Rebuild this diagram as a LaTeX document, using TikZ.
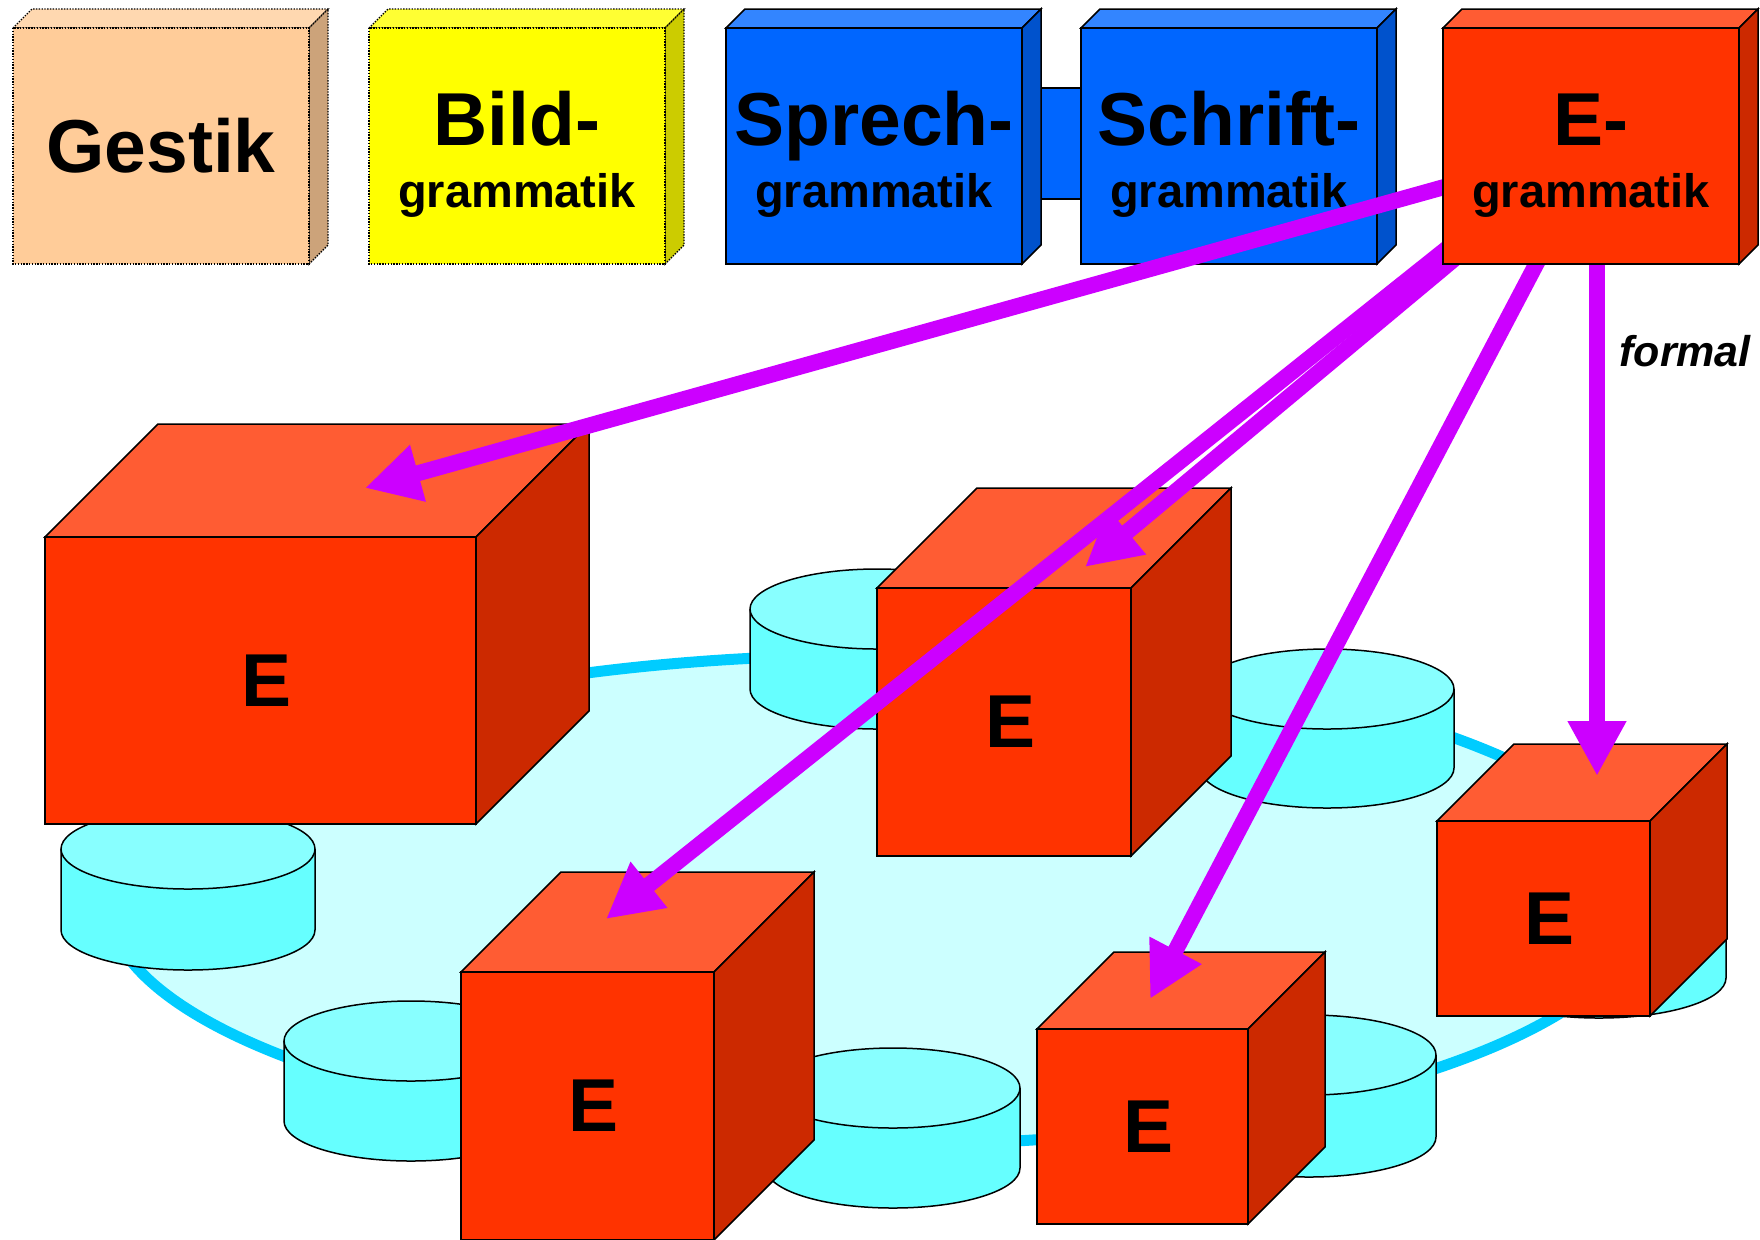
\documentclass[tikz,border=0pt]{standalone}
\usepackage{fontspec}
\setmainfont{Liberation Sans}
\usepackage{tikz}
\usetikzlibrary{arrows.meta}

\definecolor{gestikfront}{HTML}{FFCC99}
\definecolor{gestiktop}{HTML}{FFD8B0}
\definecolor{gestikside}{HTML}{CCA37A}
\definecolor{bildfront}{HTML}{FFFF00}
\definecolor{bildtop}{HTML}{FFFF33}
\definecolor{bildside}{HTML}{CCCC00}
\definecolor{bluefront}{HTML}{0066FF}
\definecolor{bluetop}{HTML}{3385FF}
\definecolor{blueside}{HTML}{0052CC}
\definecolor{redfront}{HTML}{FF3300}
\definecolor{redtop}{HTML}{FF5C33}
\definecolor{redside}{HTML}{CC2900}
\definecolor{cylside}{HTML}{66FFFF}
\definecolor{cyltop}{HTML}{88FFFF}
\definecolor{ringfill}{HTML}{CCFFFF}
\definecolor{ringblue}{HTML}{00CCFF}
\definecolor{arrowmag}{HTML}{CC00FF}

% box with top and side face: name, x, y, width, height, depth, colour, style
\newcommand{\drawcube}[8]{%
  \filldraw[#8, fill=#7top] (#2,#3) -- ++(#6,-#6) -- ++(#4,0) -- ++(-#6,#6) -- cycle;
  \filldraw[#8, fill=#7side] (#2+#4,#3) -- ++(#6,-#6) -- ++(0,#5) -- ++(-#6,#6) -- cycle;
  \filldraw[#8, fill=#7front] (#2,#3) rectangle ++(#4,#5);
  \coordinate (#1) at (#2+#4/2,#3+#5/2);
}
% disc: centre x, top y, bottom y
\newcommand{\drawdisc}[3]{%
  \filldraw[edge, fill=cylside] (#1-127,#2) -- (#1-127,#3) arc[start angle=180, end angle=0, x radius=127, y radius=40] -- (#1+127,#2);
  \filldraw[edge, fill=cyltop] (#1,#2) ellipse [x radius=127, y radius=40];
}

\tikzset{
  edge/.style={draw=black, line width=0.75pt},
  dotbox/.style={draw=black, line width=0.7pt, dash pattern=on 0.7pt off 0.7pt},
  bigtxt/.style={font=\fontsize{37.5}{44}\selectfont\bfseries, inner sep=0pt},
  smalltxt/.style={font=\fontsize{23.5}{28}\selectfont\bfseries, inner sep=0pt},
  arr/.style={draw=arrowmag, line width=8pt, -{Triangle[length=27.5pt,width=27.5pt]}},
}

\begin{document}
\begin{tikzpicture}[x=0.5pt,y=-0.5pt]
	\useasboundingbox (0,0) rectangle (1760,1239);
	
	%ring
	\filldraw[draw=ringblue, fill=ringfill, line width=5.5pt] (877,900) ellipse [x radius=770, y radius=245];
	
	%discs and boxes
	\drawdisc{188}{849}{930}
	\drawcube{c1}{45}{537}{431}{287}{113}{red}{edge}
	\drawdisc{877}{609}{689}
	\drawdisc{1327}{689}{768}
	\drawcube{c2}{877}{588}{254}{268}{100}{red}{edge}
	\drawdisc{1599}{898}{978}
	\drawcube{c3}{1437}{821}{213}{195}{77}{red}{edge}
	\drawdisc{411}{1041}{1121}
	\drawdisc{893}{1088}{1168}
	\drawcube{c4}{461}{972}{253}{268}{100}{red}{edge}
	\drawdisc{1309}{1055}{1137}
	\drawcube{c5}{1037}{1029}{211}{195}{77}{red}{edge}
	
	\node[bigtxt] (e1) at ([xshift=3pt]c1) {E};
	\node[bigtxt] (e2) at ([xshift=3pt]c2) {E};
	\node[bigtxt] (e3) at ([xshift=3pt]c3) {E};
	\node[bigtxt] (e4) at ([xshift=3pt]c4) {E};
	\node[bigtxt] (e5) at ([xshift=3pt]c5) {E};
	
	%top row
	\drawcube{gestik}{13}{28}{296}{236}{19}{gestik}{dotbox}
	\drawcube{bild}{369}{28}{296}{236}{19}{bild}{dotbox}
	\filldraw[edge, fill=bluefront] (1021,88) rectangle (1081,199);
	\drawcube{sprech}{726}{28}{296}{236}{19}{blue}{edge}
	\drawcube{schrift}{1081}{28}{296}{236}{19}{blue}{edge}
	
	\node[bigtxt] (gestiktxt) at (gestik) {Gestik};
	\node[bigtxt, anchor=base] (bild1) at ([yshift=0.5pt]bild) {Bild-};
	\node[smalltxt, anchor=base] (bild2) at ([yshift=-30.5pt]bild) {grammatik};
	\node[bigtxt, anchor=base] (sprech1) at ([yshift=0.5pt]sprech) {Sprech-};
	\node[smalltxt, anchor=base] (sprech2) at ([yshift=-30.5pt]sprech) {grammatik};
	\node[bigtxt, anchor=base] (schrift1) at ([yshift=0.5pt]schrift) {Schrift-};
	\node[smalltxt, anchor=base] (schrift2) at ([yshift=-30.5pt]schrift) {grammatik};
	
	%arrows
	\coordinate (from1) at (1455,184);
	\coordinate (from2) at (1455,242);
	\coordinate (from3) at (1459,255);
	\coordinate (from4) at (1541,255);
	\coordinate (from5) at (1597,255);
	\coordinate (tip1) at (365,488);
	\coordinate (tip2) at (606,919);
	\coordinate (tip3) at (1085,567);
	\coordinate (tip4) at (1150,999);
	\coordinate (tip5) at (1597,776);
	\draw[arr] (from1) -- (tip1);
	\draw[arr] (from2) -- (tip2);
	\draw[arr] (from3) -- (tip3);
	\draw[arr] (from4) -- (tip4);
	\draw[arr] (from5) -- (tip5);
	\node[font=\fontsize{21.5}{26}\selectfont\bfseries\itshape, anchor=base west, inner sep=0pt] (formal) at (1619,366) {formal};
	
	\drawcube{egram}{1443}{28}{296}{236}{19}{red}{edge}
	\node[bigtxt, anchor=base] (egram1) at ([yshift=0.5pt]egram) {E-};
	\node[smalltxt, anchor=base] (egram2) at ([yshift=-30.5pt]egram) {grammatik};
	
\end{tikzpicture}
\end{document}
